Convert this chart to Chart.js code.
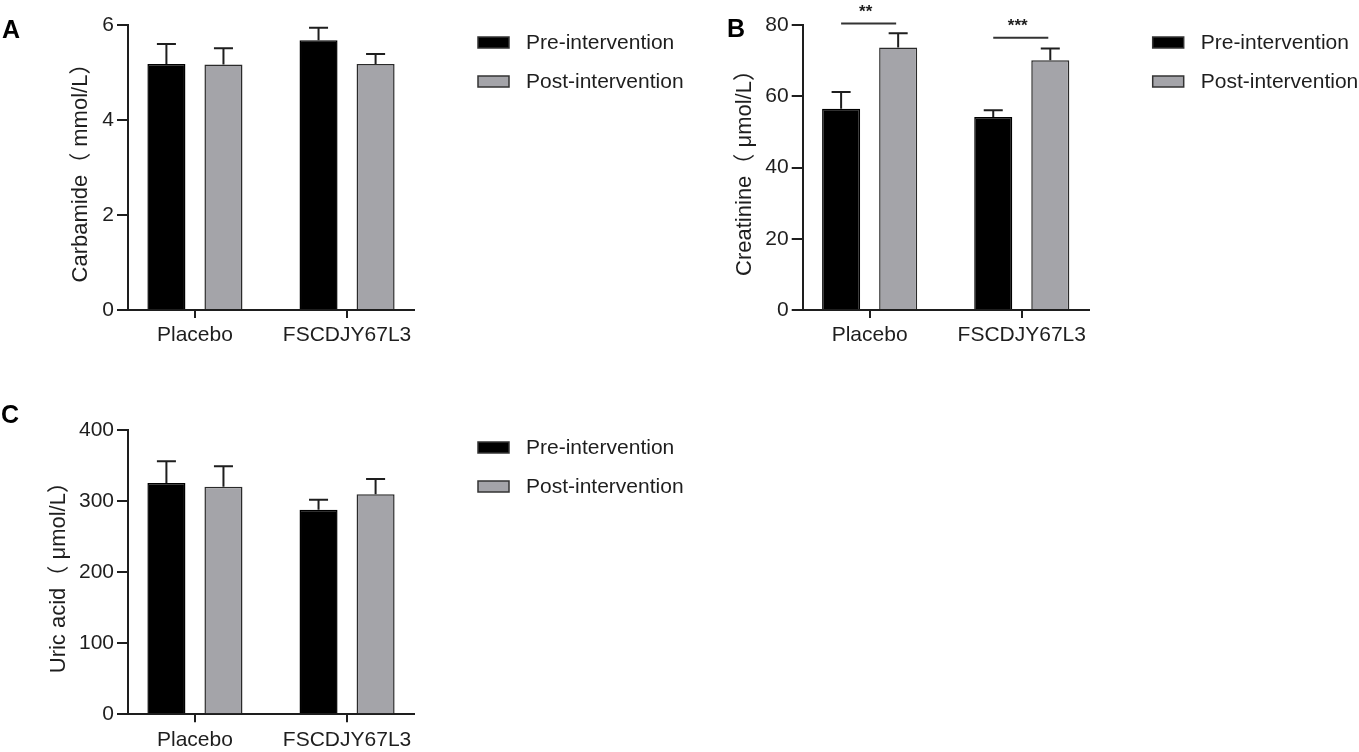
<!DOCTYPE html>
<html>
<head>
<meta charset="utf-8">
<script src="https://cdn.jsdelivr.net/npm/chart.js@4.4.0/dist/chart.umd.min.js"></script>
<style>
  html, body { margin: 0; padding: 0; background: #fff; overflow: hidden; width: 1359px; height: 752px; }
  .panel { position: absolute; }
  .tag { position: absolute; font: bold 25px "Liberation Sans", Arial, sans-serif; line-height: 25px; color: #000; z-index: 2; }
</style>
</head>
<body>
<canvas id="chartA" class="panel" width="720" height="380" style="left:0;top:0"></canvas>
<canvas id="chartB" class="panel" width="679" height="380" style="left:680px;top:0"></canvas>
<canvas id="chartC" class="panel" width="720" height="380" style="left:0;top:400px"></canvas>
<div class="tag" style="left:2px;top:17px">A</div>
<div class="tag" style="left:727px;top:16px">B</div>
<div class="tag" style="left:1px;top:402px">C</div>
<script>
const groups = ['Placebo', 'FSCDJY67L3'];
const seriesNames = ['Pre-intervention', 'Post-intervention'];

// A - Carbamide (mmol/L), mean and SD
const carbPre = [5.18, 5.68];
const carbPreSd = [0.42, 0.26];
const carbPost = [5.17, 5.18];
const carbPostSd = [0.34, 0.21];
const carbTicks = [0, 2, 4, 6];

// B - Creatinine (umol/L)
const creaPre = [56.5, 54.2];
const creaPreSd = [4.7, 1.9];
const creaPost = [73.7, 70.1];
const creaPostSd = [4.0, 3.3];
const creaTicks = [0, 20, 40, 60, 80];
const creaSig = ['**', '***'];

// C - Uric acid (umol/L)
const uricPre = [325.4, 287.9];
const uricPreSd = [30.6, 14.1];
const uricPost = [320.3, 309.5];
const uricPostSd = [28.7, 21.5];
const uricTicks = [0, 100, 200, 300, 400];

const FONT = '"Liberation Sans", Arial, "Noto Sans CJK SC", sans-serif';
const INK = '#1e1e1e';
const preColor = '#000000';
const postColor = '#a4a4a9';

Chart.defaults.font.family = FONT;
Chart.defaults.color = INK;

// error bars (upward only) drawn on top of each bar
const errorBars = {
	id: 'errorBars',
	afterDatasetsDraw(chart) {
		const ctx = chart.ctx;
		const yScale = chart.scales.y;
		chart.data.datasets.forEach((ds, i) => {
			const meta = chart.getDatasetMeta(i);
			meta.data.forEach((bar, j) => {
				const top = yScale.getPixelForValue(ds.data[j].y + ds.sd[j]);
				const half = bar.width / 4;
				ctx.save();
				ctx.strokeStyle = INK;
				ctx.lineWidth = 2;
				ctx.beginPath();
				ctx.moveTo(bar.x, bar.y);
				ctx.lineTo(bar.x, top);
				ctx.moveTo(bar.x - half, top);
				ctx.lineTo(bar.x + half, top);
				ctx.stroke();
				ctx.restore();
			});
		});
	}
};

// legend to the right of the plot, like the Prism layout
const sideLegend = {
	id: 'sideLegend',
	afterDraw(chart) {
		const ctx = chart.ctx;
		const area = chart.chartArea;
		const x0 = area.right + 64;
		const rows = [17.5, 56.5];
		chart.data.datasets.forEach((ds, i) => {
			const cy = area.top + rows[i];
			ctx.save();
			ctx.fillStyle = ds.backgroundColor;
			ctx.fillRect(x0, cy - 5.5, 31, 11);
			ctx.strokeStyle = '#333';
			ctx.lineWidth = 1.5;
			ctx.strokeRect(x0, cy - 5.5, 31, 11);
			ctx.fillStyle = INK;
			ctx.font = '21px ' + FONT;
			ctx.textAlign = 'left';
			ctx.textBaseline = 'middle';
			ctx.fillText(ds.label, x0 + 48, cy + 1);
			ctx.restore();
		});
	}
};

// significance brackets between pre and post bars
const sigMarks = {
	id: 'sigMarks',
	afterDraw(chart, args, opts) {
		if (!opts.items) return;
		const ctx = chart.ctx;
		const yScale = chart.scales.y;
		const pre = chart.getDatasetMeta(0).data;
		const post = chart.getDatasetMeta(1).data;
		opts.items.forEach((it) => {
			if (!it.text) return;
			const y = yScale.getPixelForValue(it.level);
			const x1 = pre[it.group].x;
			const x2 = post[it.group].x - 2;
			ctx.save();
			ctx.strokeStyle = '#333';
			ctx.lineWidth = 2;
			ctx.beginPath();
			ctx.moveTo(x1, y);
			ctx.lineTo(x2, y);
			ctx.stroke();
			ctx.fillStyle = INK;
			ctx.font = 'bold 17px ' + FONT;
			ctx.textAlign = 'center';
			ctx.textBaseline = 'alphabetic';
			ctx.fillText(it.text, (x1 + x2) / 2 - 3, y - 7);
			ctx.restore();
		});
	}
};

function points(values) {
	return values.map((v, i) => ({ x: i + 1, y: v }));
}

function makeChart(id, cfg) {
	const ctx = document.getElementById(id).getContext('2d');
	return new Chart(ctx, {
		type: 'bar',
		data: {
			datasets: [
				{
					label: seriesNames[0],
					data: points(cfg.pre),
					sd: cfg.preSd,
					backgroundColor: preColor,
					borderColor: '#000',
					borderWidth: 1.5,
					categoryPercentage: 0.75,
					barPercentage: 0.667
				},
				{
					label: seriesNames[1],
					data: points(cfg.post),
					sd: cfg.postSd,
					backgroundColor: postColor,
					borderColor: '#2a2a2a',
					borderWidth: 1.5,
					categoryPercentage: 0.75,
					barPercentage: 0.667
				}
			]
		},
		options: {
			responsive: false,
			animation: false,
			layout: { padding: cfg.pad },
			plugins: {
				legend: { display: false },
				tooltip: { enabled: false },
				sigMarks: { items: cfg.sig || null }
			},
			scales: {
				x: {
					type: 'linear',
					min: 0.56,
					max: 2.44,
					offset: false,
					afterBuildTicks: (scale) => {
						scale.ticks = groups.map((g, i) => ({ value: i + 1 }));
					},
					afterFit: (scale) => { scale.height = 50; },
					grid: { drawOnChartArea: false, offset: false, color: INK, lineWidth: 2, tickLength: 8 },
					border: { color: INK, width: 2 },
					ticks: {
						padding: 5,
						font: { size: 21 },
						color: INK,
						maxRotation: 0,
						autoSkip: false,
						callback: (v) => groups[v - 1]
					}
				},
				y: {
					min: cfg.ticks[0],
					max: cfg.ticks[cfg.ticks.length - 1],
					afterBuildTicks: (scale) => {
						scale.ticks = cfg.ticks.map((t) => ({ value: t }));
					},
					afterFit: (scale) => { scale.width = cfg.yWidth; },
					grid: { drawOnChartArea: false, color: INK, lineWidth: 2, tickLength: 11 },
					border: { color: INK, width: 2 },
					ticks: { padding: 3, font: { size: 21 }, color: INK },
					title: {
						display: true,
						text: cfg.title,
						font: { size: 22 },
						color: INK,
						padding: { top: cfg.titlePad, bottom: 0 }
					}
				}
			}
		},
		plugins: [errorBars, sideLegend, sigMarks]
	});
}

makeChart('chartA', {
	pre: carbPre, preSd: carbPreSd, post: carbPost, postSd: carbPostSd,
	ticks: carbTicks,
	title: 'Carbamide（ mmol/L）',
	pad: { left: 0, top: 25, right: 306, bottom: 20 },
	yWidth: 128,
	titlePad: 67.8
});

makeChart('chartB', {
	pre: creaPre, preSd: creaPreSd, post: creaPost, postSd: creaPostSd,
	ticks: creaTicks,
	title: 'Creatinine（ μmol/L）',
	pad: { left: 0, top: 25, right: 270.3, bottom: 20 },
	yWidth: 122.7,
	titlePad: 51.8,
	sig: [
		{ group: 0, text: creaSig[0], level: 80.4 },
		{ group: 1, text: creaSig[1], level: 76.4 }
	]
});

makeChart('chartC', {
	pre: uricPre, preSd: uricPreSd, post: uricPost, postSd: uricPostSd,
	ticks: uricTicks,
	title: 'Uric acid（ μmol/L）',
	pad: { left: 0, top: 30, right: 306, bottom: 15.7 },
	yWidth: 128,
	titlePad: 45.8
});
</script>
</body>
</html>
